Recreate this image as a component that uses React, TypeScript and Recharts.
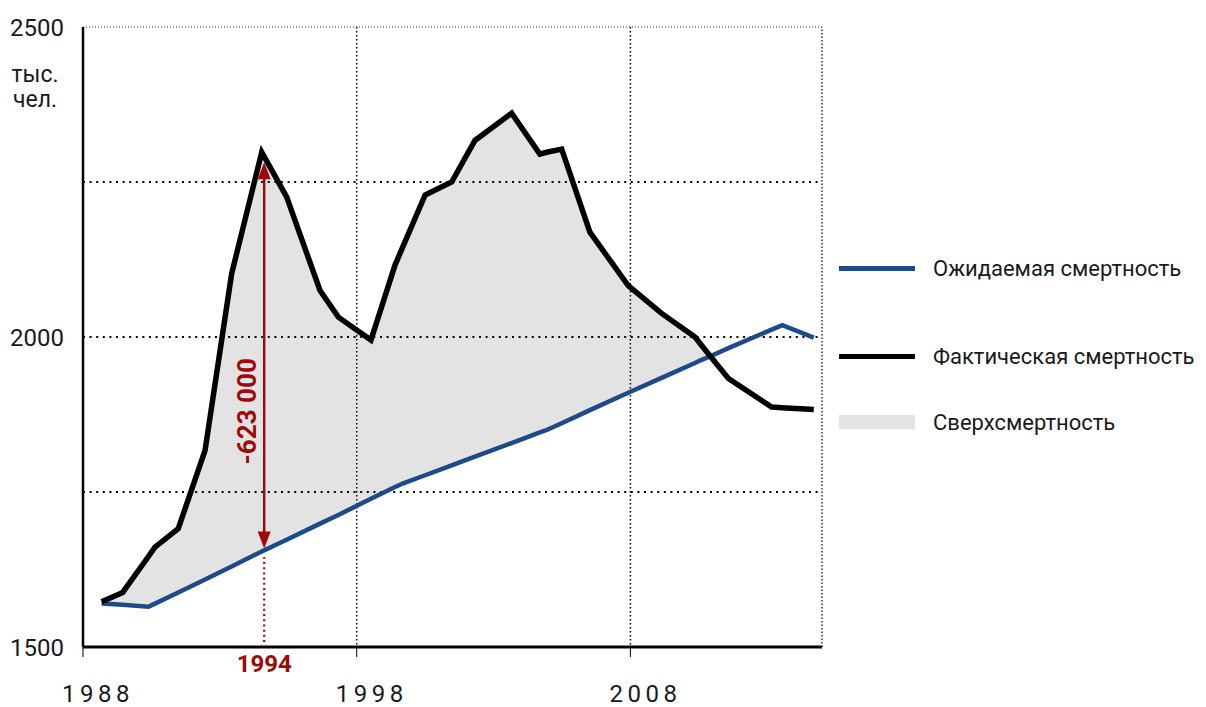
import { ComposedChart, Area, Line, XAxis, YAxis, CartesianGrid, ReferenceLine } from "recharts"

// positions along the axis (the drawing is not on whole years)
const years = [
  1988.68, 1989.45, 1990.39, 1990.63, 1991.48, 1992.46, 1993.43, 1994.53, 1995.44, 1996.66,
  1997.33, 1998.52, 1999.4, 1999.7, 2000.5, 2001.47, 2002.32, 2003.66, 2004.69, 2004.94,
  2005.49, 2006.52, 2007.92, 2009.14, 2010.36, 2010.54, 2010.92, 2011.58, 2013.16, 2013.55, 2014.7,
]
// фактическая смертность, тыс. чел.
const actual = [
  1573, 1588, 1646, 1661, 1691, 1817, 2102, 2298, 2226, 2075,
  2032, 1995, 2116, 2147, 2229, 2250, 2317, 2361, 2295, 2298,
  2303, 2169, 2083, 2038, 2000, 1990, 1969, 1933, 1887, 1886, 1883,
]
// ожидаемая смертность, тыс. чел.
const expected = [
  1570, 1568, 1565, 1570, 1588, 1609, 1630, 1654, 1673, 1699,
  1713, 1739, 1758, 1764, 1777, 1793, 1807, 1829, 1846, 1850,
  1861, 1882, 1910, 1934, 1958, 1962, 1969, 1982, 2012, 2019, 1999,
]

const xTicks = [1988, 1998, 2008]
const yTicks = [1500, 2000, 2500]
const gridY = [1750, 2000, 2250]
const gridX = [1998, 2008]

// annotation for 1994
const markYear = 1994.62
const markLabel = "1994"
const arrowFrom = 1659
const arrowTo = 2282
const dropFrom = 1508
const dropTo = 1645
const excessLabel = "-623 000"

const legendItems = [
  { name: "Ожидаемая смертность", kind: "line", color: "#1c4a8a" },
  { name: "Фактическая смертность", kind: "line", color: "#000000" },
  { name: "Сверхсмертность", kind: "area", color: "#e3e3e3" },
]

const data = years.map((year, i) => ({
  year,
  actual: actual[i],
  expected: expected[i],
  band: [expected[i], Math.max(actual[i], expected[i])],
}))

const RED = "#9c0a0a"
const FONT = "Roboto, 'Noto Sans', sans-serif"

function YearTick({ x, y, payload }: any) {
  return (
    <text x={x + 15} y={y + 45} textAnchor="middle" fontSize={24} letterSpacing={4.5} fill="#1a1a1a" fontFamily={FONT}>
      {payload.value}
    </text>
  )
}

function ArrowShape(props: any) {
  const { x1, y1, y2 } = props
  const top = Math.min(y1, y2)
  const bottom = Math.max(y1, y2)
  const x = x1
  const ty = (top + bottom) / 2 + 56
  return (
    <g>
      <line x1={x} y1={top + 14} x2={x} y2={bottom - 14} stroke={RED} strokeWidth={2.4} />
      <polygon points={`${x},${top} ${x - 6.5},${top + 17} ${x + 6.5},${top + 17}`} fill={RED} />
      <polygon points={`${x},${bottom} ${x - 6.5},${bottom - 17} ${x + 6.5},${bottom - 17}`} fill={RED} />
      <text
        x={x - 17}
        y={ty}
        transform={`rotate(-90 ${x - 17} ${ty})`}
        textAnchor="middle"
        dominantBaseline="central"
        fontSize={26}
        fontWeight="bold"
        fill={RED}
        fontFamily={FONT}
      >
        {excessLabel}
      </text>
    </g>
  )
}

function DropShape(props: any) {
  const { x1, y1, x2, y2 } = props
  const bottom = Math.max(y1, y2)
  return (
    <g>
      <line x1={x1} y1={y1} x2={x2} y2={y2} stroke={RED} strokeWidth={2.2} strokeDasharray="2 3.2" />
      <text x={x1} y={bottom + 30} textAnchor="middle" fontSize={24} fontWeight="bold" fill={RED} fontFamily={FONT}>
        {markLabel}
      </text>
    </g>
  )
}

export default function App() {
  return (
    <div style={{ position: "absolute", left: 0, top: 0, width: 1206, height: 707, background: "#fff", fontFamily: FONT, color: "#1a1a1a" }}>
      <ComposedChart width={1206} height={707} data={data} margin={{ top: 27, right: 384, bottom: 0, left: 0 }}>
        <CartesianGrid vertical={false} horizontalValues={gridY} stroke="#000" strokeWidth={2} strokeDasharray="2 4.6" />
        <CartesianGrid horizontal={false} verticalValues={gridX} stroke="#000" strokeWidth={1.5} strokeDasharray="1.5 2.5" />
        <XAxis
          dataKey="year"
          type="number"
          domain={[1988, 2015]}
          ticks={xTicks}
          height={60}
          tickSize={10}
          tickMargin={0}
          tick={<YearTick />}
          axisLine={{ stroke: "#000", strokeWidth: 3 }}
          tickLine={{ stroke: "#000", strokeWidth: 1 }}
        />
        <YAxis
          type="number"
          domain={[1500, 2500]}
          ticks={yTicks}
          width={83}
          tickSize={0}
          tickMargin={19}
          tickLine={false}
          axisLine={{ stroke: "#000", strokeWidth: 2.5 }}
          tick={{ fontSize: 24, fill: "#1a1a1a", fontFamily: FONT }}
        />
        <ReferenceLine y={2500} stroke="#333" strokeWidth={1} strokeDasharray="1 2" />
        <ReferenceLine x={2015} stroke="#333" strokeWidth={1.5} strokeDasharray="1.5 2" />
        <Area type="linear" dataKey="band" fill="#000" fillOpacity={0.11} stroke="none" isAnimationActive={false} />
        <Line type="linear" dataKey="expected" stroke="#1c4a8a" strokeWidth={4.5} dot={false} isAnimationActive={false} />
        <Line type="linear" dataKey="actual" stroke="#000" strokeWidth={5.5} dot={false} isAnimationActive={false} />
        <ReferenceLine segment={[{ x: markYear, y: dropFrom }, { x: markYear, y: dropTo }]} shape={<DropShape />} />
        <ReferenceLine segment={[{ x: markYear, y: arrowFrom }, { x: markYear, y: arrowTo }]} shape={<ArrowShape />} />
      </ComposedChart>

      <div style={{ position: "absolute", left: 9, top: 62, width: 52, textAlign: "center", fontSize: 23, lineHeight: "25px" }}>
        тыс.
        <br />
        чел.
      </div>

      {legendItems.map((item, i) => (
        <div
          key={item.name}
          style={{
            position: "absolute",
            left: 839,
            top: [268, 356, 422][i] - 15,
            height: 30,
            display: "flex",
            alignItems: "center",
            fontSize: 22,
            whiteSpace: "nowrap",
          }}
        >
          <span
            style={{
              display: "inline-block",
              width: 76,
              height: item.kind === "line" ? 5 : 14,
              background: item.color,
              marginRight: 18,
            }}
          />
          {item.name}
        </div>
      ))}
    </div>
  )
}
